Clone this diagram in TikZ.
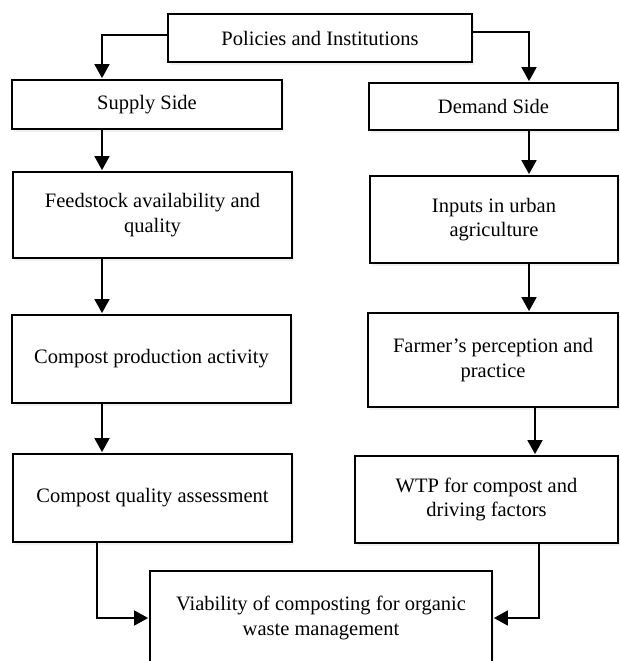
\documentclass[tikz,border=0pt]{standalone}
\usepackage{fontspec}
\setmainfont{Liberation Serif}
\usetikzlibrary{arrows.meta,shadows}

\begin{document}
\begin{tikzpicture}[x=1pt, y=-1pt,
	box/.style={draw, line width=1.8pt, fill=white, inner sep=0pt, align=center,
		font=\fontsize{20.5}{24.5}\selectfont,
		drop shadow={opacity=0.12, shadow xshift=2pt, shadow yshift=-3pt}},
	arr/.style={line width=1.8pt, ->, >={Triangle[width=15pt,length=14pt]}, shorten >=1pt}]
	\useasboundingbox (0, 0) rectangle (619, 661);
	\node[box, minimum width=304pt, minimum height=48pt] (pol) at (320, 38) {Policies and Institutions};
	\node[box, minimum width=270pt, minimum height=49pt] (sup) at (147, 104.5) {Supply Side};
	\node[box, minimum width=249pt, minimum height=47pt] (dem) at (493.5, 106.5) {Demand Side};
	\node[box, minimum width=279pt, minimum height=86pt] (feed) at (152.5, 215) {Feedstock availability and\\quality};
	\node[box, minimum width=248pt, minimum height=87pt] (inp) at (494, 219.5) {Inputs in urban\\agriculture};
	\node[box, minimum width=279pt, minimum height=88pt] (prod) at (151.5, 359) {Compost production activity};
	\node[box, minimum width=250pt, minimum height=94pt] (farm) at (493, 360) {Farmer’s perception and\\practice};
	\node[box, minimum width=279pt, minimum height=88pt] (qual) at (152.5, 498) {Compost quality assessment};
	\node[box, minimum width=263pt, minimum height=87pt] (wtp) at (486.5, 499.5) {WTP for compost and\\driving factors};
	\node[box, minimum width=342pt, minimum height=94pt] (viab) at (321, 618) {Viability of composting for organic\\waste management};
	\coordinate (xa) at (102, 0);%Spalte links
	\coordinate (xb) at (529, 0);%Spalte rechts
	\coordinate (xc) at (535, 0);
	\coordinate (xd) at (97, 0);
	\coordinate (xe) at (539, 0);
	\draw[arr] ([yshift=3pt]pol.west) -| (xa |- sup.north);
	\draw[arr] ([yshift=6pt]pol.east) -| (xb |- dem.north);
	\draw[arr] (xa |- sup.south) -- (xa |- feed.north);
	\draw[arr] (xa |- feed.south) -- (xa |- prod.north);
	\draw[arr] (xa |- prod.south) -- (xa |- qual.north);
	\draw[arr] (xb |- dem.south) -- (xb |- inp.north);
	\draw[arr] (xb |- inp.south) -- (xb |- farm.north);
	\draw[arr] (xc |- farm.south) -- (xc |- wtp.north);
	\draw[arr] (xd |- qual.south) |- (viab.west);%von links
	\draw[arr] (xe |- wtp.south) |- (viab.east);%von rechts
\end{tikzpicture}
\end{document}
